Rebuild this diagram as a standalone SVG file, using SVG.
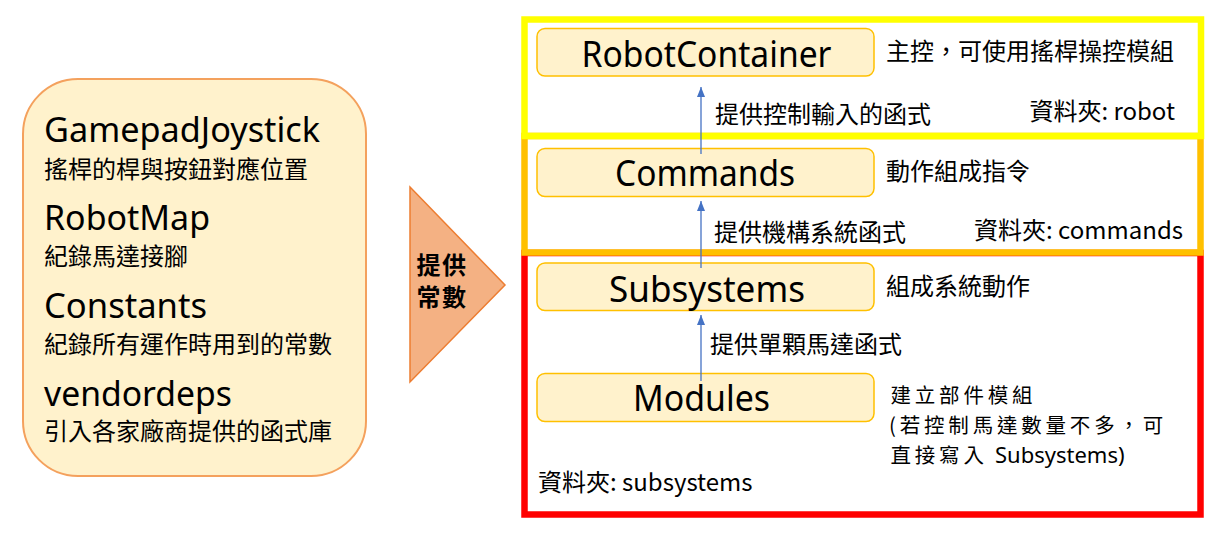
<svg xmlns="http://www.w3.org/2000/svg" width="1225" height="540" viewBox="0 0 1225 540">
<defs>
<style>
.lat{font-family:"Noto Sans","Noto Sans CJK TC",sans-serif;fill:#000}
.cjk{font-family:"Noto Sans CJK TC","Noto Sans",sans-serif;font-size:24px;fill:#000}
.sm{font-size:20.5px;letter-spacing:3.8px}
.big{font-size:36px}
.node{fill:#FFF2CC;stroke:#FFC000;stroke-width:1.5}
.conn{stroke:#4472C4;stroke-width:1.3;fill:none;marker-end:url(#ah)}
</style>
<marker id="ah" viewBox="0 0 10 8" refX="10" refY="4" markerWidth="10" markerHeight="8" markerUnits="userSpaceOnUse" orient="auto">
<path d="M0,0 L10,4 L0,8 z" fill="#4472C4"/>
</marker>
</defs>
<rect width="1225" height="540" fill="#fff"/>

<g id="layer-subsystems">
<rect x="524.5" y="253" width="676" height="261.5" fill="none" stroke="#FF0000" stroke-width="6.5"/>
<text class="cjk" x="538" y="491">資料夾: subsystems</text>
</g>
<g id="layer-commands">
<rect x="524.5" y="136" width="676" height="116.5" fill="none" stroke="#FFC000" stroke-width="6.5"/>
<text class="cjk" x="1183" y="239" text-anchor="end">資料夾: commands</text>
</g>
<g id="layer-robot">
<rect x="524.5" y="19.5" width="676.5" height="116.5" fill="none" stroke="#FFFF00" stroke-width="6.5"/>
<text class="cjk" x="1175" y="120" text-anchor="end">資料夾: robot</text>
</g>

<g id="config-box">
<rect x="23" y="79" width="343" height="397" rx="55" ry="55" fill="#FFF2CC" stroke="#F4A15D" stroke-width="2"/>
<text class="lat" x="44" y="142" font-size="35" textLength="276" lengthAdjust="spacingAndGlyphs">GamepadJoystick</text>
<text class="cjk" x="44" y="178">搖桿的桿與按鈕對應位置</text>
<text class="lat" x="44" y="230" font-size="35" textLength="166" lengthAdjust="spacingAndGlyphs">RobotMap</text>
<text class="cjk" x="44" y="265">紀錄馬達接腳</text>
<text class="lat" x="44" y="318" font-size="35" textLength="163" lengthAdjust="spacingAndGlyphs">Constants</text>
<text class="cjk" x="44" y="353">紀錄所有運作時用到的常數</text>
<text class="lat" x="44" y="406" font-size="35" textLength="188" lengthAdjust="spacingAndGlyphs">vendordeps</text>
<text class="cjk" x="44" y="440">引入各家廠商提供的函式庫</text>
</g>

<g id="provide-arrow">
<polygon points="410,187 505,285 410,382" fill="#F4B183" stroke="#ED7D31" stroke-width="1.5"/>
<text class="cjk" x="442" y="274" text-anchor="middle" font-size="21" letter-spacing="1.5" font-weight="bold">提供</text>
<text class="cjk" x="442" y="306" text-anchor="middle" font-size="21" letter-spacing="1.5" font-weight="bold">常數</text>
</g>

<g id="node-robotcontainer">
<rect class="node" x="537" y="28.5" width="337" height="47.5" rx="8"/>
<text class="lat big" x="706.5" y="66.5" text-anchor="middle" textLength="250" lengthAdjust="spacingAndGlyphs">RobotContainer</text>
<text class="cjk" x="886" y="60">主控，可使用搖桿操控模組</text>
</g>
<g id="node-commands">
<rect class="node" x="537" y="148.5" width="337" height="48" rx="8"/>
<text class="lat big" x="705" y="186" text-anchor="middle" textLength="180" lengthAdjust="spacingAndGlyphs">Commands</text>
<text class="cjk" x="886" y="180">動作組成指令</text>
</g>
<g id="node-subsystems">
<rect class="node" x="537" y="263" width="337" height="47.5" rx="8"/>
<text class="lat big" x="707" y="301.5" text-anchor="middle" textLength="196" lengthAdjust="spacingAndGlyphs">Subsystems</text>
<text class="cjk" x="886" y="295">組成系統動作</text>
</g>
<g id="node-modules">
<rect class="node" x="537" y="373.5" width="337" height="48" rx="8"/>
<text class="lat big" x="701.5" y="410.5" text-anchor="middle" textLength="137" lengthAdjust="spacingAndGlyphs">Modules</text>
<text class="cjk sm" x="890.5" y="403">建立部件模組</text>
<text class="cjk sm" x="889" y="433">(若控制馬達數量不多，可</text>
<text class="cjk sm" x="890.5" y="463">直接寫入 <tspan font-family="Noto Sans, sans-serif" font-size="22" letter-spacing="0" x="995">Subsystems)</tspan></text>
</g>

<g id="connectors">
<line class="conn" x1="701" y1="154" x2="701" y2="87"/>
<text class="cjk" x="715" y="123">提供控制輸入的函式</text>
<line class="conn" x1="701" y1="268" x2="701" y2="201"/>
<text class="cjk" x="714" y="241">提供機構系統函式</text>
<line class="conn" x1="701" y1="381" x2="701" y2="315"/>
<text class="cjk" x="710" y="353">提供單顆馬達函式</text>
</g>
</svg>
